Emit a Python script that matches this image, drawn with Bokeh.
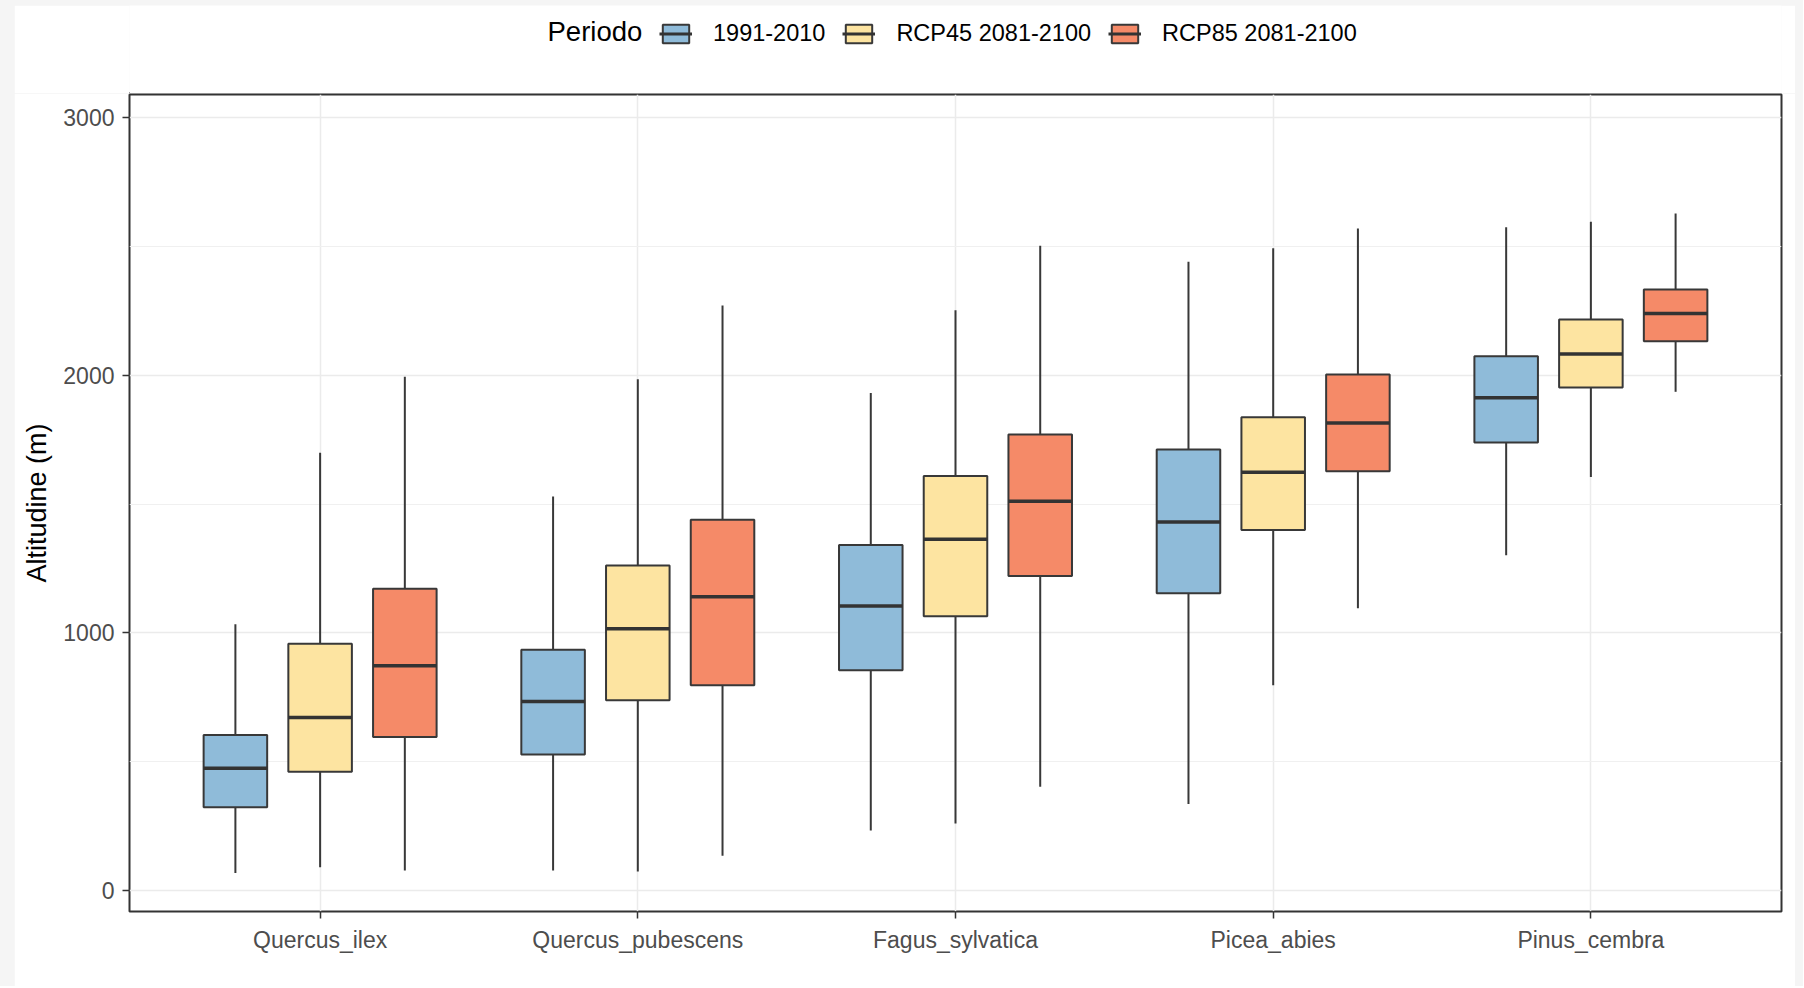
import numpy as np
from bokeh.plotting import figure
from bokeh.layouts import column
from bokeh.models import ColumnDataSource, FixedTicker, Legend, LegendItem, Range1d, Label
from bokeh.embed import file_html
from bokeh.resources import INLINE

species = ["Quercus_ilex", "Quercus_pubescens", "Fagus_sylvatica", "Picea_abies", "Pinus_cembra"]
periods = ["1991-2010", "RCP45 2081-2100", "RCP85 2081-2100"]
legend_title = "Periodo"
colors = ["#8FBBD9", "#FDE4A1", "#F58A68"]

# 1991-2010
p1_lo = [67, 76, 232, 335, 1301]
p1_q1 = [322, 527, 854, 1153, 1739]
p1_med = [474, 733, 1104, 1430, 1913]
p1_q3 = [603, 934, 1341, 1712, 2074]
p1_hi = [1033, 1529, 1931, 2441, 2575]

# RCP45 2081-2100
p2_lo = [89, 72, 259, 796, 1605]
p2_q1 = [460, 738, 1064, 1399, 1953]
p2_med = [671, 1015, 1363, 1623, 2083]
p2_q3 = [957, 1261, 1609, 1837, 2217]
p2_hi = [1699, 1985, 2253, 2494, 2597]

# RCP85 2081-2100
p3_lo = [76, 134, 402, 1095, 1936]
p3_q1 = [595, 796, 1220, 1627, 2132]
p3_med = [872, 1140, 1511, 1815, 2240]
p3_q3 = [1171, 1439, 1770, 2003, 2333]
p3_hi = [1994, 2271, 2503, 2570, 2629]

y_ticks = [0, 1000, 2000, 3000]
y_minor = [500, 1500, 2500]

stats = [
    (p1_lo, p1_q1, p1_med, p1_q3, p1_hi),
    (p2_lo, p2_q1, p2_med, p2_q3, p2_hi),
    (p3_lo, p3_q1, p3_med, p3_q3, p3_hi),
]

dodge = 0.8 / 3
box_w = 0.2
FONT = "Liberation Sans"
EDGE = "#383838"
MED = "#333333"
W = 1781

# ---------------- legend strip (top) ----------------
LEG_H = 88
lf = figure(width=W, height=LEG_H, x_range=Range1d(0, 1), y_range=Range1d(0, 1),
            output_backend="svg", toolbar_location=None,
            x_axis_location=None, y_axis_location=None,
            min_border_left=115, min_border_right=14, min_border_top=0, min_border_bottom=0)
lf.margin = (5, 8, 0, 14)
lf.outline_line_color = None
lf.xgrid.visible = False
lf.ygrid.visible = False
lf.background_fill_color = "white"
lf.border_fill_color = "white"

# legend proxies (placed outside the visible range of the strip)
legend_items = []
for k in range(len(periods)):
    b = lf.vbar(x=[-5], top=[-5], bottom=[-6], width=0.1, fill_color=colors[k],
                line_color=EDGE, line_width=2)
    m = lf.segment(x0=[-5], x1=[-4], y0=[-5], y1=[-5], line_color=MED, line_width=3)
    legend_items.append(LegendItem(label=periods[k], renderers=[b, m]))

legend = Legend(items=legend_items, orientation="horizontal", location=(530, 46))
legend.label_text_font = FONT
legend.label_text_font_size = "23.5px"
legend.label_text_color = "black"
legend.label_standoff = 21
legend.label_height = 23
legend.glyph_width = 33
legend.glyph_height = 23
legend.spacing = 17
legend.padding = 5
legend.margin = 0
legend.border_line_color = None
legend.background_fill_alpha = 0
lf.add_layout(legend, "center")

lf.add_layout(Label(x=418, y=62, x_units="screen", y_units="screen", text=legend_title,
                    text_font=FONT, text_font_size="27.5px", text_color="black",
                    text_baseline="middle", text_align="left"))

# ---------------- main plot ----------------
p = figure(width=W, height=893, x_range=Range1d(0.4, 5.6), y_range=Range1d(-83, 3091),
           output_backend="svg", toolbar_location=None,
           min_border_left=115, min_border_right=14, min_border_top=1, min_border_bottom=75)
p.margin = (0, 8, 0, 14)
p.background_fill_color = "white"
p.border_fill_color = "white"
p.outline_line_color = "#333333"
p.outline_line_width = 2

base = np.arange(1, len(species) + 1)
for k, (lo, q1, med, q3, hi) in enumerate(stats):
    xs = base + (k - 1) * dodge
    src = ColumnDataSource(dict(x=xs, lo=lo, q1=q1, med=med, q3=q3, hi=hi,
                                xl=xs - box_w / 2, xr=xs + box_w / 2, sp=species))
    p.segment(x0="x", x1="x", y0="lo", y1="hi", source=src, line_color=EDGE, line_width=2)
    p.vbar(x="x", width=box_w, bottom="q1", top="q3", source=src,
           fill_color=colors[k], fill_alpha=1.0, line_color=EDGE, line_width=2)
    p.segment(x0="xl", x1="xr", y0="med", y1="med", source=src,
              line_color=MED, line_width=3.5)

# axes
p.xaxis.ticker = FixedTicker(ticks=list(base))
p.xaxis.major_label_overrides = {int(i): s for i, s in zip(base, species)}
p.yaxis.ticker = FixedTicker(ticks=y_ticks, minor_ticks=y_minor)
p.yaxis.axis_label = "Altitudine (m)"
for ax in (p.xaxis[0], p.yaxis[0]):
    ax.axis_line_color = None
    ax.major_tick_line_color = "#333333"
    ax.major_tick_line_width = 1.5
    ax.major_tick_out = 7
    ax.major_tick_in = 0
    ax.minor_tick_line_color = None
    ax.major_label_text_font = FONT
    ax.major_label_text_font_size = "23px"
    ax.major_label_text_color = "#4D4D4D"
    ax.major_label_standoff = 8
    ax.axis_label_text_font = FONT
    ax.axis_label_text_font_size = "27px"
    ax.axis_label_text_font_style = "normal"
    ax.axis_label_text_color = "black"
    ax.axis_label_standoff = 8

p.xgrid.ticker = FixedTicker(ticks=list(base))
p.xgrid.grid_line_color = "#EBEBEB"
p.xgrid.grid_line_width = 1.5
p.ygrid.ticker = FixedTicker(ticks=y_ticks, minor_ticks=y_minor)
p.ygrid.grid_line_color = "#EBEBEB"
p.ygrid.grid_line_width = 1.5
p.ygrid.minor_grid_line_color = "#F0F0F0"
p.ygrid.minor_grid_line_width = 1.2

page = column(lf, p, spacing=0, styles={"background-color": "#F5F5F5"})
open("out.html", "w").write(file_html(page, INLINE))
